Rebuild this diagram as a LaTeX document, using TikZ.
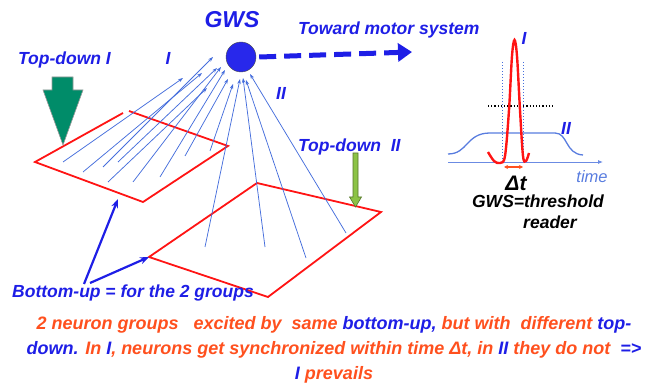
\documentclass[tikz,border=0pt]{standalone}
\usepackage{fontspec}
\setmainfont{Liberation Sans}
\usepackage{tikz}
\usetikzlibrary{arrows.meta, positioning, calc}
\definecolor{gwsAzul}{RGB}{40,40,235}
\definecolor{txtAzul}{RGB}{30,30,230}
\definecolor{fibAzul}{RGB}{70,110,220}
\definecolor{capaRojo}{RGB}{255,20,20}
\definecolor{txtRojo}{RGB}{255,80,30}
\definecolor{tdVerde}{RGB}{0,140,105}
\definecolor{tdClaro}{RGB}{140,195,70}

\begin{document}
\begin{tikzpicture}[x=1pt, y=-1pt,
        etiq/.style={font=\bfseries\itshape\fontsize{17.5}{19}\selectfont, text=txtAzul, inner sep=0pt},
        fib/.style={-{Stealth[length=5pt,width=3.5pt]}, fibAzul, line width=0.75pt},
        capa/.style={capaRojo, line width=1.8pt, line join=miter},
        flecha/.style={-{Stealth[length=9pt,width=7pt]}, txtAzul, line width=2.2pt}]
    \useasboundingbox (0,0) rectangle (646,385);
    % capas de neuronas
    \coordinate (q1l) at (35,162); \coordinate (q1b) at (143,202);
    \coordinate (q1r) at (228,146); \coordinate (q1t) at (126,112);
    \coordinate (q2l) at (149,257); \coordinate (q2b) at (268,297);
    \coordinate (q2r) at (381,212); \coordinate (q2t) at (257,183);
    \draw[capa] (123,113) -- (q1l) -- (q1b) -- (q1r) -- (129,111);
    \draw[capa] (q2l) -- (q2b) -- (q2r) -- (q2t) -- cycle;
    % GWS
    \node[circle, fill=gwsAzul, draw=black!70, minimum size=30pt, inner sep=0pt] (gws) at (241,57) {};
    \node[etiq, font=\bfseries\itshape\fontsize{23}{25}\selectfont] (gwst) at (232,20) {GWS};
    % fibras grupo I y grupo II
    \foreach \xa/\ya/\xb/\yb in {63/162/183/78, 83/172/202/73, 103/167/213/57, 108/182/207/88,
                       118/162/217/68, 133/182/221/67, 160/177/225/70, 185/156/228/79, 210/151/233/84,
                       205/247/240/79, 265/247/243/78, 306/258/246/80, 346/233/250/74}
        \draw[fib] (\xa,\ya) -- (\xb,\yb);
    % hacia el sistema motor
    \coordinate (mot) at (412,52);
    \draw[txtAzul, line width=5pt, dash pattern=on 17pt off 8pt, -{Triangle[length=14pt,width=18pt]}] (gws.east) ++(3,0) -- (mot);
    \node[etiq, anchor=west] (motor) at (298,30) {Toward motor system};
    % top-down
    \node[etiq, anchor=west] (tdI) at (18,60) {Top-down I};
    \node[etiq] (gI) at (168,58) {I};
    \node[etiq] (gII) at (281,93) {II};
    \node[etiq, anchor=west] (tdII) at (298,147) {Top-down~~II};
    \filldraw[fill=tdVerde, draw=black!40, line width=0.6pt]
        (52,77) -- (73,77) -- (73,90) -- (83,90) -- (63,145) -- (43,90) -- (52,90) -- cycle;
    \filldraw[fill=tdClaro, draw=tdClaro!60!black, line width=0.6pt]
        (353,153) -- (358,153) -- (358,197) -- (361.5,197) -- (355.5,207) -- (349.5,197) -- (353,197) -- cycle;
    % bottom-up
    \node[etiq, anchor=west] (bu) at (12,293) {Bottom-up = for the 2 groups};
    \coordinate (bu1) at (84,284); \coordinate (bu2) at (90,283);
    \draw[flecha] (bu1) -- (118,199);
    \draw[flecha] (bu2) -- (q2l);
    % lector de umbral
    \draw[fibAzul!80, line width=0.8pt, -{Latex[length=5pt,width=4pt]}] (448,162) -- (603,162);
    \draw[fibAzul, dotted, line width=1pt] (502,62) -- (502,161);
    \draw[fibAzul, dotted, line width=1pt] (523,62) -- (523,161);
    \draw[black, dotted, line width=1.2pt] (488,106) -- (555,106);
    \draw[fibAzul!90, line width=1.3pt] (448,154) .. controls (468,154) and (466,133) .. (490,133)
        -- (555,133) .. controls (568,133) and (565,154) .. (583,155);
    \draw[capaRojo, line width=2.4pt] plot[smooth, tension=0.55] coordinates {(488,152) (494,161) (500,163) (505,156)
        (509,110) (512,56) (514.5,40) (517,56) (520,110) (523,156) (526,161) (529,153)};
    \draw[txtRojo, line width=1.2pt, {Stealth[length=4pt,width=4pt]}-{Stealth[length=4pt,width=4pt]}] (504,167) -- (523,167);
    \node[etiq] (pI) at (524,38) {I};
    \node[etiq] (pII) at (566,128) {II};
    \node[font=\itshape\fontsize{16.5}{18}\selectfont, text=fibAzul!90, inner sep=0pt] (tiempo) at (592,177) {time};
    \node[etiq, text=black, font=\bfseries\itshape\fontsize{21}{22}\selectfont] (dt) at (516,183) {Δt};
    \node[etiq, text=black, align=center] (umbral) at (538,212) {GWS=threshold\\[2pt]\hspace*{24pt}reader};
    % conclusion
    \node[etiq, text=txtRojo, align=center, font=\bfseries\itshape\fontsize{18}{25}\selectfont] (concl) at (334,350)
        {2 neuron groups~~ excited by~ same \textcolor{txtAzul}{bottom-up,} but with~ different \textcolor{txtAzul}{top-}\\
         \textcolor{txtAzul}{down.} In \textcolor{txtAzul}{I}, neurons get synchronized within time Δt, in \textcolor{txtAzul}{II} they do not~ \textcolor{txtAzul}{=>}\\
         \textcolor{txtAzul}{I} prevails};
\end{tikzpicture}
\end{document}
